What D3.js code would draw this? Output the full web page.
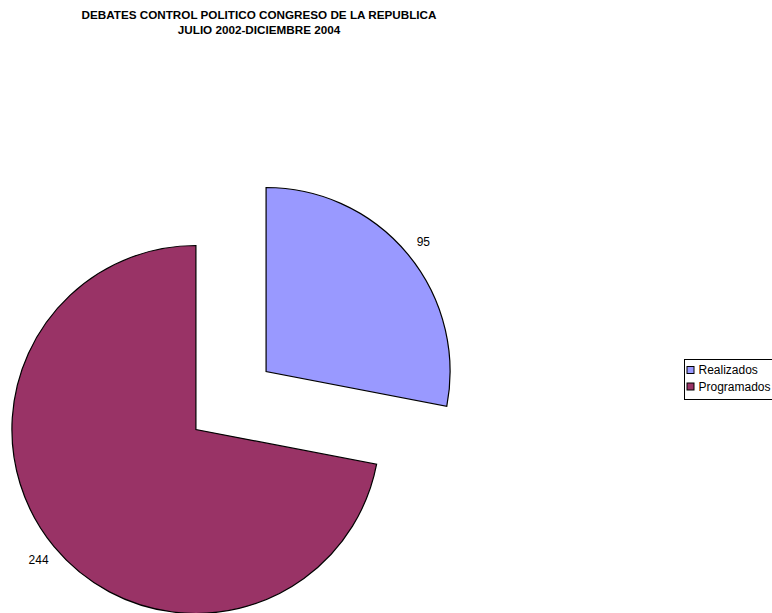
<!DOCTYPE html>
<html>
<head>
<meta charset="utf-8">
<script src="https://cdn.jsdelivr.net/npm/d3@7"></script>
<style>
  html, body { margin: 0; padding: 0; background: #fff; }
  svg { display: block; font-family: "Liberation Sans", Arial, sans-serif; }
</style>
</head>
<body>
<svg id="chart" width="772" height="613"></svg>
<script>
// Debates de control político: realizados frente a programados
const categories = ["Realizados", "Programados"];
const values = [95, 244];
const colors = ["#9999FF", "#993366"];
const titleLines = [
  "DEBATES CONTROL POLITICO CONGRESO DE LA REPUBLICA",
  "JULIO 2002-DICIEMBRE 2004"
];

const svg = d3.select("#chart");

// Title
svg.append("g").selectAll("text")
  .data(titleLines)
  .join("text")
  .attr("x", 259)
  .attr("y", (d, i) => 19 + i * 15)
  .attr("text-anchor", "middle")
  .attr("font-size", 11.7)
  .attr("font-weight", "bold")
  .attr("fill", "#000")
  .text(d => d);

// Pie geometry
const cx = 231, cy = 400.5, radius = 184, explode = 45.5;
const pie = d3.pie().sort(null).value(d => d.value).startAngle(0).endAngle(2 * Math.PI);
const arcs = pie(categories.map((c, i) => ({ name: c, value: values[i], color: colors[i] })));
const arc = d3.arc().innerRadius(0).outerRadius(radius);

const slices = svg.append("g").attr("transform", `translate(${cx},${cy})`)
  .selectAll("g")
  .data(arcs)
  .join("g")
  .attr("transform", d => {
    const mid = (d.startAngle + d.endAngle) / 2;
    return `translate(${Math.sin(mid) * explode},${-Math.cos(mid) * explode})`;
  });

slices.append("path")
  .attr("d", arc)
  .attr("fill", d => d.data.color)
  .attr("stroke", "#000")
  .attr("stroke-width", 1.2)
  .attr("stroke-linejoin", "miter");

// Value labels outside each slice
const labelArc = d3.arc().innerRadius(radius + 20).outerRadius(radius + 20);
slices.append("text")
  .attr("transform", d => `translate(${labelArc.centroid(d)})`)
  .attr("text-anchor", "middle")
  .attr("dy", "0.35em")
  .attr("font-size", 12)
  .attr("fill", "#000")
  .text(d => d.data.value);

// Legend
const legend = svg.append("g").attr("transform", "translate(684.5,359.5)");
legend.append("rect")
  .attr("width", 88)
  .attr("height", 40)
  .attr("fill", "#fff")
  .attr("stroke", "#000")
  .attr("stroke-width", 1);

const items = legend.selectAll("g.item")
  .data(categories)
  .join("g")
  .attr("class", "item")
  .attr("transform", (d, i) => `translate(2,${10.5 + i * 16.5})`);

items.append("rect")
  .attr("x", 0.5)
  .attr("y", -3.5)
  .attr("width", 7)
  .attr("height", 7)
  .attr("fill", (d, i) => colors[i])
  .attr("stroke", "#000")
  .attr("stroke-width", 1);

items.append("text")
  .attr("x", 12)
  .attr("y", 0)
  .attr("dy", "0.36em")
  .attr("font-size", 12)
  .attr("fill", "#000")
  .text(d => d);
</script>
</body>
</html>
